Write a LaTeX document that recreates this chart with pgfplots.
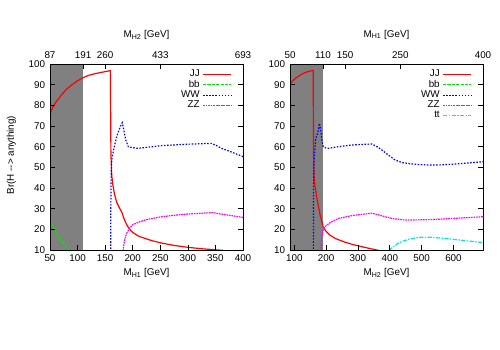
\documentclass[border=0pt]{standalone}
\usepackage{fontspec}
\setmainfont{Liberation Sans}
\usepackage{pgfplots}
\pgfplotsset{compat=1.18}

\definecolor{cJJ}{RGB}{255,0,0}
\definecolor{cbb}{RGB}{0,230,0}
\definecolor{cWW}{RGB}{0,0,255}
\definecolor{cZZ}{RGB}{255,0,255}
\definecolor{ctt}{RGB}{0,230,230}
\definecolor{shade}{RGB}{128,128,128}

\pgfplotsset{
  brframe/.style={
    scale only axis, width=4.825cm, height=4.65cm,
    ymin=10, ymax=100, ytick={10,20,...,100},
    tick label style={font=\scriptsize},
    label style={font=\scriptsize},
    /pgf/number format/assume math mode=true,
    tick style={black, line width=0.5pt},
    major tick length=0.12cm, tick align=inside,
    axis line style={black, line width=0.6pt},
    axis on top,
    xtick pos=left, ytick pos=both, yticklabel pos=left,
    every axis x label/.style={at={(axis description cs:0.5,-0.124)}, anchor=center, font=\scriptsize},
    legend cell align=right, legend plot pos=right,
    legend style={draw=none, fill=none, font=\scriptsize, inner sep=0pt,
      at={(0.943,0.985)}, anchor=north east, row sep=-3pt,
      /tikz/every even column/.append style={column sep=1pt}},
    legend image code/.code={\draw[#1] plot coordinates {(0cm,0cm) (0.35cm,0cm) (0.7cm,0cm)};},
    every axis plot/.append style={line width=0.85pt},
  },
  topframe/.style={
    scale only axis, width=4.825cm, height=4.65cm,
    ymin=10, ymax=100,
    axis x line=top, axis y line=none, axis line style={-},
    tick label style={font=\scriptsize},
    /pgf/number format/assume math mode=true,
    tick style={black, line width=0.5pt},
    major tick length=0.12cm, tick align=inside,
    every axis x label/.style={at={(axis description cs:0.5,1.156)}, anchor=center, font=\scriptsize},
  },
  JJ/.style={cJJ, solid},
  bb/.style={cbb, dash pattern=on 2.2pt off 0.9pt},
  WW/.style={cWW, dash pattern=on 1.1pt off 1.1pt},
  ZZ/.style={cZZ, dash pattern=on 1.2pt off 0.6pt},
  tt/.style={ctt, dash pattern=on 3pt off 1pt on 1pt off 1pt},
}

\begin{document}
\begin{tikzpicture}
\path[use as bounding box] (0,0) rectangle (12.5cm,8.75cm);

% left panel: x = M_H1
\begin{axis}[brframe, at={(1.25cm,2.5cm)}, anchor=south west,
  xmin=50, xmax=400, xtick={50,100,...,400},
  xlabel={M\textsubscript{H1} [GeV]},
  ylabel={Br(H -{}-> anything)},
  every axis y label/.style={at={(axis description cs:-0.2,0.51)}, rotate=90, anchor=center, font=\scriptsize},
]
\addplot[fill=shade, draw=none, forget plot] coordinates {(50,100) (110,100)} \closedcycle;

\addplot[JJ] coordinates {
 (50,76) (55,79) (60,81.3) (65,83) (70,84.8) (80,87.8) (90,90) (100,91.9)
 (110,93.4) (120,94.5) (130,95.2) (140,95.8) (150,96.3) (159.5,96.8)
 (160.5,56) (162,46) (164,41.5) (167,37) (171,33) (176,30.3) (180,28.5)
 (183,26) (186,24) (190,21.8) (195,19.8) (200,18.5) (210,16.8) (220,15.8)
 (235,14.5) (250,13.5) (275,12.2) (300,11.3) (325,10.6) (350,10.1) (365,9.8)
};
\addlegendentry{JJ}
\addplot[bb] coordinates {
 (50,25) (55,22) (60,19.2) (65,16.8) (70,14.7) (75,12.9) (80,11.2) (85,9.8)
};
\addlegendentry{bb}
\addplot[WW] coordinates {
 (160,9) (160.3,30) (161,48) (162,53.5) (165,58) (168,61.6) (171,65)
 (174,67.2) (178,70) (181,71.6) (184,68) (187,63.5) (192,60) (200,59.5)
 (210,59.2) (230,59.8) (252,60.5) (300,61.2) (343,61.6) (352,60.5)
 (361,59.2) (380,57.3) (400,55.2)
};
\addlegendentry{WW}
\addplot[ZZ] coordinates {
 (182.5,9.5) (184,13) (186,15.5) (189,18) (193,20) (200,22.2) (210,23.4)
 (225,24.7) (250,26) (275,26.8) (300,27.4) (325,27.8) (345,28.1)
 (360,27.4) (380,26.6) (400,25.8)
};
\addlegendentry{ZZ}
\end{axis}

\begin{axis}[topframe, at={(1.25cm,2.5cm)}, anchor=south west,
  xmin=50, xmax=400,
  xtick={50,110,150,250,400}, xticklabels={87,191,260,433,693},
  xlabel={M\textsubscript{H2} [GeV]},
]
\end{axis}

% right panel: x = M_H2
\begin{axis}[brframe, at={(7.25cm,2.5cm)}, anchor=south west,
  xmin=86.6, xmax=692.8, xtick={100,200,...,600},
  xlabel={M\textsubscript{H2} [GeV]},
]
\addplot[fill=shade, draw=none, forget plot] coordinates {(86.6,100) (190.5,100)} \closedcycle;

\addplot[JJ] coordinates {
 (86.6,90.3) (95,91.8) (105,93.2) (115,94.3) (125,95.2) (135,95.9)
 (145,96.4) (155,96.8) (159.5,96.9) (160.5,56) (162,46) (165,41) (170,36)
 (176,31) (181,27) (186,24.2) (191,21) (200,19) (212,17.2) (230,15.5)
 (259,13.8) (285,12.6) (312,11.6) (335,10.8) (356,10.1) (365,9.8)
};
\addlegendentry{JJ}
\addlegendimage{bb}
\addlegendentry{bb}
\addplot[WW] coordinates {
 (160,9) (160.3,30) (161,48) (163,55) (167.5,64) (172,66) (176,68)
 (179,71.3) (182,69) (184,67) (187,63) (191,60) (200,59.3) (207,59.2)
 (240,60) (280,60.8) (343,61.3) (360,60) (375,58.4) (395,56) (417,53.5)
 (440,52.3) (469,51.6) (521,51.1) (560,51.2) (595,51.5) (640,52) (692.8,52.7)
};
\addlegendentry{WW}
\addplot[ZZ] coordinates {
 (183.5,9.5) (185,13) (188,18) (192,20) (197,21.3) (210,23) (239,25.3)
 (280,26.6) (320,27.4) (343,27.8) (360,27.2) (385,26.1) (410,25.2)
 (448,24.5) (500,24.6) (542,24.8) (600,25.3) (650,25.7) (692.8,26.1)
};
\addlegendentry{ZZ}
\addplot[tt] coordinates {
 (400,9.5) (402,10.5) (415,12) (427,13.3) (440,14.2) (459,15.2) (480,15.8)
 (500,16.2) (520,16.2) (542,16) (580,15.5) (616,14.9) (650,14.3) (692.8,13.6)
};
\addlegendentry{tt}
\end{axis}

\begin{axis}[topframe, at={(7.25cm,2.5cm)}, anchor=south west,
  xmin=86.6, xmax=692.8,
  xtick={86.6,190.5,259.8,433.0,692.8}, xticklabels={50,110,150,250,400},
  xlabel={M\textsubscript{H1} [GeV]},
]
\end{axis}
\end{tikzpicture}
\end{document}
